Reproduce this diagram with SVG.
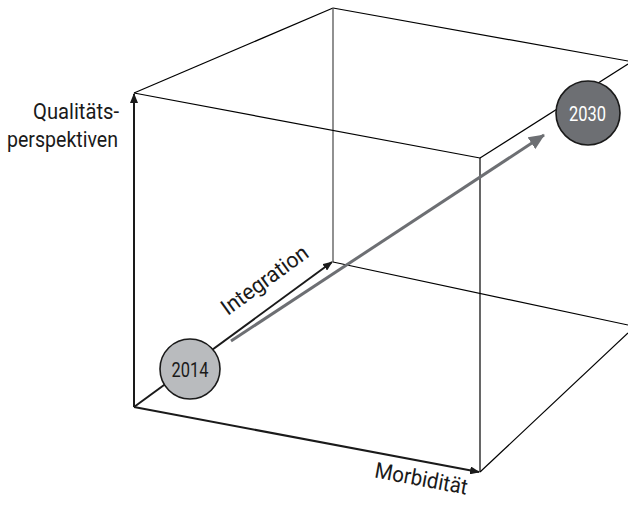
<svg xmlns="http://www.w3.org/2000/svg" width="628" height="506" viewBox="0 0 628 506">
<style>
.thin{stroke:#000;stroke-width:1.2;fill:none}
.thick{stroke:#1a1a1a;stroke-width:2;fill:none}
.lbl{font-family:Roboto,"Noto Sans",sans-serif;font-size:22px;fill:#1a1a1a}
.yr{font-family:Roboto,"Noto Sans",sans-serif;font-size:19.5px}
</style>
<defs>
<marker id="ah" markerWidth="10" markerHeight="8" refX="9" refY="4" orient="auto" markerUnits="userSpaceOnUse">
<path d="M0,0 L10,4 L0,8 Z" fill="#1a1a1a"/>
</marker>
<marker id="ahg" markerWidth="16" markerHeight="14" refX="15" refY="7" orient="auto" markerUnits="userSpaceOnUse">
<path d="M0,0 L16,7 L0,14 Z" fill="#6d6f73"/>
</marker>
</defs>
<rect width="628" height="506" fill="#fff"/>
<g id="connectors">
<line class="thin" x1="134" y1="93" x2="333" y2="8"/>
<line class="thin" x1="333" y1="8" x2="628" y2="61"/>
<line x1="333" y1="8" x2="333" y2="262" stroke="#555" stroke-width="1.3"/>
<line class="thin" x1="333" y1="262" x2="628" y2="325"/>
<line class="thin" x1="480" y1="158" x2="628" y2="64"/>
<line class="thin" x1="480" y1="472" x2="628" y2="333"/>
<line class="thin" x1="134" y1="93" x2="480" y2="158" stroke-width="1.6"/>
<line class="thin" x1="480" y1="158" x2="480" y2="472" stroke-width="1.6"/>
<line class="thick" x1="134" y1="407" x2="134" y2="94" marker-end="url(#ah)"/>
<line class="thick" x1="134" y1="407" x2="479" y2="472" marker-end="url(#ah)"/>
<line class="thick" x1="134" y1="407" x2="332" y2="262" stroke-width="1.6" marker-end="url(#ah)"/>
<line x1="231" y1="341" x2="544" y2="135" stroke="#6d6f73" stroke-width="3" marker-end="url(#ahg)"/>
</g>
<g id="node-2014">
<circle cx="190" cy="369" r="30" fill="#b9bbbe" stroke="#1a1a1a" stroke-width="1.6"/>
<text class="yr" x="190" y="376.5" text-anchor="middle" fill="#1a1a1a" textLength="37" lengthAdjust="spacingAndGlyphs">2014</text>
</g>
<g id="node-2030">
<circle cx="588" cy="113" r="32" fill="#6d6f73" stroke="#1a1a1a" stroke-width="1.6"/>
<text class="yr" x="587.5" y="121" text-anchor="middle" fill="#fff" textLength="37" lengthAdjust="spacingAndGlyphs">2030</text>
</g>
<g id="label-qual">
<text class="lbl" x="119" y="119" text-anchor="end" textLength="86" lengthAdjust="spacingAndGlyphs">Qualitäts-</text>
<text class="lbl" x="118" y="147" text-anchor="end" textLength="111" lengthAdjust="spacingAndGlyphs">perspektiven</text>
</g>
<g id="label-integration">
<text class="lbl" transform="translate(269,286) rotate(-36)" text-anchor="middle" textLength="102" lengthAdjust="spacingAndGlyphs">Integration</text>
</g>
<g id="label-morb">
<text class="lbl" transform="translate(420,486) rotate(10.6)" text-anchor="middle" textLength="94" lengthAdjust="spacingAndGlyphs">Morbidität</text>
</g>
</svg>
